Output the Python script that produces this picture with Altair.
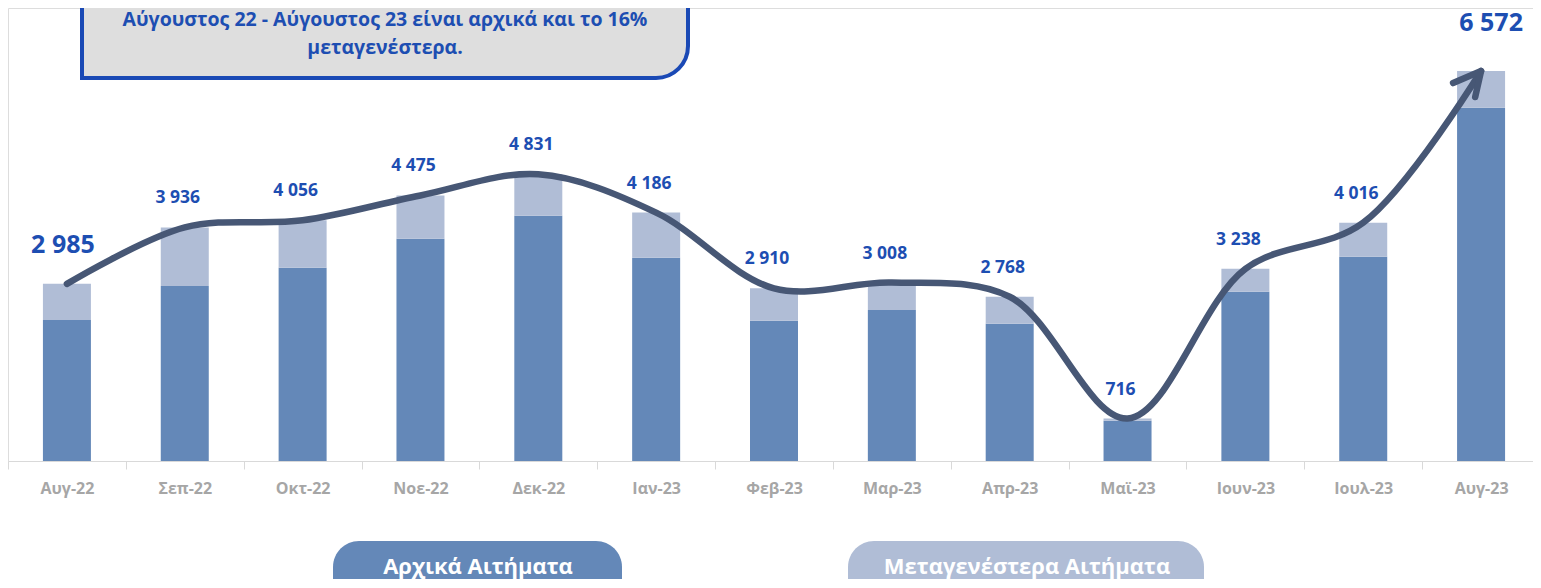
import altair as alt
import pandas as pd

months = ["Αυγ-22", "Σεπ-22", "Οκτ-22", "Νοε-22", "Δεκ-22", "Ιαν-23", "Φεβ-23",
          "Μαρ-23", "Απρ-23", "Μαϊ-23", "Ιουν-23", "Ιουλ-23", "Αυγ-23"]
totals = [2985, 3936, 4056, 4475, 4831, 4186, 2910, 3008, 2768, 716, 3238, 4016, 6572]
initial = [2376, 2949, 3257, 3746, 4134, 3426, 2364, 2545, 2314, 679, 2853, 3443, 5954]
later = [t - i for t, i in zip(totals, initial)]

series_names = ["Αρχικά Αιτήματα", "Μεταγενέστερα Αιτήματα"]
series_colors = ["#6488b8", "#b0bdd6"]

box_lines = ["Αύγουστος 22 - Αύγουστος 23 είναι αρχικά και το 16%",
             "μεταγενέστερα."]

FONT = "Open Sans"
LINE_COLOR = "#475775"
LABEL_BLUE = "#1d4eb2"

rows = []
for m, a, b in zip(months, initial, later):
    rows.append({"month": m, "series": series_names[0], "value": a, "ord": 0})
    rows.append({"month": m, "series": series_names[1], "value": b, "ord": 1})
bars_df = pd.DataFrame(rows)

tot_df = pd.DataFrame({
    "month": months,
    "total": totals,
    "idx": list(range(len(months))),
    "label": [f"{t:,}".replace(",", " ") for t in totals],
})

x_scale = alt.Scale(range=[0, 1532], paddingInner=0, paddingOuter=0)
x_axis = alt.Axis(title=None, labelAngle=0, labelFont=FONT, labelFontSize=16,
                  labelFontWeight="bold", labelColor="#a6a6a6", labelPadding=11,
                  domainColor="#d9d9d9", tickColor="#d9d9d9", tickSize=8,
                  tickBand="extent", grid=False)
y_scale = alt.Scale(domain=[0, 7634])


def X():
    return alt.X("month:N", sort=months, scale=x_scale, axis=x_axis)


def Y(field):
    return alt.Y(field, scale=y_scale, axis=None)


bars = alt.Chart(bars_df).mark_bar(size=48).encode(
    x=X(),
    y=alt.Y("value:Q", stack="zero", scale=y_scale, axis=None),
    color=alt.Color("series:N", scale=alt.Scale(domain=series_names, range=series_colors), legend=None),
    order=alt.Order("ord:Q"),
)

line = alt.Chart(tot_df).mark_line(interpolate="catmull-rom", strokeWidth=6.5, color=LINE_COLOR,
                                   strokeCap="round", strokeJoin="round").encode(
    x=X(), y=Y("total:Q"),
)

arrow = alt.Chart(tot_df).transform_filter("datum.idx == 12").mark_point(
    shape="M -1 0.43 L 0 0 L -0.21 0.93", size=3136, filled=False, stroke=LINE_COLOR,
    strokeWidth=6.5, strokeCap="round", strokeJoin="round", opacity=1).encode(
    x=X(), y=Y("total:Q"),
)

labels = alt.Chart(tot_df).transform_filter("datum.idx > 0 && datum.idx < 12").mark_text(
    font=FONT, fontSize=17.5, fontWeight="bold", color=LABEL_BLUE, dx=-7, dy=-29,
    baseline="middle").encode(
    x=X(), y=Y("total:Q"), text="label:N",
)
label_first = alt.Chart(tot_df).transform_filter("datum.idx == 0").mark_text(
    font=FONT, fontSize=25, fontWeight="bold", color=LABEL_BLUE, dx=-4, dy=-39,
    baseline="middle").encode(
    x=X(), y=Y("total:Q"), text="label:N",
)
label_last = alt.Chart(tot_df).transform_filter("datum.idx == 12").mark_text(
    font=FONT, fontSize=25, fontWeight="bold", color=LABEL_BLUE, dx=10, dy=-48,
    baseline="middle").encode(
    x=X(), y=Y("total:Q"), text="label:N",
)

one = pd.DataFrame({"k": [0]})
box = alt.Chart(one).mark_rect(fill="#dedede", stroke="#1a49b5", strokeWidth=4,
                               cornerRadiusBottomRight=32).encode(
    x=alt.value(74), x2=alt.value(680), y=alt.value(-40), y2=alt.value(70))
box_text_layers = []
for txt, yy in zip(box_lines, [12, 40]):
    bdf = pd.DataFrame({"t": [txt]})
    box_text_layers.append(alt.Chart(bdf).mark_text(
        font=FONT, fontSize=19.5, fontWeight="bold", color=LABEL_BLUE,
        baseline="middle", align="center").encode(
        x=alt.value(377), y=alt.value(yy), text="t:N"))

pill_layers = []
pill_geom = [(325, 614, 470), (840, 1196, 1019)]
for name, col, (x0, x1, xc) in zip(series_names, series_colors, pill_geom):
    pdf = pd.DataFrame({"name": [name]})
    pill_layers.append(alt.Chart(pdf).mark_rect(fill=col, cornerRadius=26).encode(
        x=alt.value(x0), x2=alt.value(x1), y=alt.value(533), y2=alt.value(640)))
    pill_layers.append(alt.Chart(pdf).mark_text(font=FONT, fontSize=22, fontWeight="bold",
                                                color="white", baseline="middle").encode(
        x=alt.value(xc), y=alt.value(559), text="name:N"))

chart = alt.layer(bars, line, arrow, labels, label_first, label_last, box,
                  *box_text_layers, *pill_layers).properties(
    width=1525, height=453,
    autosize=alt.AutoSizeParams(type="none"),
    padding={"left": 0, "top": 0, "right": 0, "bottom": 118},
).configure_view(stroke=None).configure(background="white")

chart.save("out.html", embed_options={"renderer": "svg", "actions": False})
